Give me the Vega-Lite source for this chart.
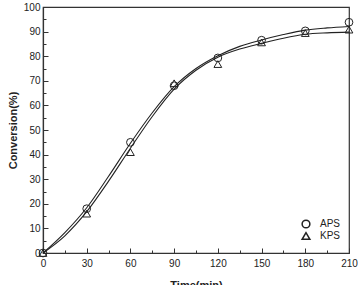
{
  "$schema": "https://vega.github.io/schema/vega-lite/v6.json",
  "autosize": {"type": "none"},
  "padding": {"left": 43, "top": 7, "right": 9, "bottom": 32},
  "width": 306,
  "height": 246,
  "background": "white",
  "config": {
    "font": "Liberation Sans",
    "view": {"stroke": "#333", "strokeWidth": 1.2},
    "axis": {"grid": false, "domainColor": "#333", "domainWidth": 1.2, "tickColor": "#333", "labelColor": "#222", "labelFontSize": 10, "labelOverlap": false, "titleFontSize": 11, "titleFontWeight": "bold", "titleColor": "#222"}
  },
  "datasets": {
    "pts": [
      {"time": 0, "conv": 0, "series": "APS"},
      {"time": 30, "conv": 18, "series": "APS"},
      {"time": 60, "conv": 45, "series": "APS"},
      {"time": 90, "conv": 68, "series": "APS"},
      {"time": 120, "conv": 79.3, "series": "APS"},
      {"time": 150, "conv": 86.5, "series": "APS"},
      {"time": 180, "conv": 90.3, "series": "APS"},
      {"time": 210, "conv": 93.8, "series": "APS"},
      {"time": 0, "conv": 0, "series": "KPS"},
      {"time": 30, "conv": 16, "series": "KPS"},
      {"time": 60, "conv": 41, "series": "KPS"},
      {"time": 90, "conv": 69, "series": "KPS"},
      {"time": 120, "conv": 76.8, "series": "KPS"},
      {"time": 150, "conv": 85.6, "series": "KPS"},
      {"time": 180, "conv": 89.4, "series": "KPS"},
      {"time": 210, "conv": 90.8, "series": "KPS"}
    ],
    "fit": [
      {"time": 0, "conv": 0, "series": "APS"},
      {"time": 15, "conv": 8.3, "series": "APS"},
      {"time": 30, "conv": 18.4, "series": "APS"},
      {"time": 45, "conv": 31.2, "series": "APS"},
      {"time": 60, "conv": 44.6, "series": "APS"},
      {"time": 75, "conv": 57, "series": "APS"},
      {"time": 90, "conv": 67.6, "series": "APS"},
      {"time": 105, "conv": 75, "series": "APS"},
      {"time": 120, "conv": 80.2, "series": "APS"},
      {"time": 135, "conv": 84, "series": "APS"},
      {"time": 150, "conv": 86.6, "series": "APS"},
      {"time": 165, "conv": 88.8, "series": "APS"},
      {"time": 180, "conv": 90.6, "series": "APS"},
      {"time": 195, "conv": 91.5, "series": "APS"},
      {"time": 210, "conv": 92.1, "series": "APS"},
      {"time": 0, "conv": 0, "series": "KPS"},
      {"time": 15, "conv": 7, "series": "KPS"},
      {"time": 30, "conv": 16.8, "series": "KPS"},
      {"time": 45, "conv": 29.2, "series": "KPS"},
      {"time": 60, "conv": 42.6, "series": "KPS"},
      {"time": 75, "conv": 55.5, "series": "KPS"},
      {"time": 90, "conv": 66.6, "series": "KPS"},
      {"time": 105, "conv": 74.3, "series": "KPS"},
      {"time": 120, "conv": 79.6, "series": "KPS"},
      {"time": 135, "conv": 82.9, "series": "KPS"},
      {"time": 150, "conv": 85.2, "series": "KPS"},
      {"time": 165, "conv": 87.3, "series": "KPS"},
      {"time": 180, "conv": 88.9, "series": "KPS"},
      {"time": 195, "conv": 89.5, "series": "KPS"},
      {"time": 210, "conv": 89.8, "series": "KPS"}
    ]
  },
  "encoding": {
    "x": {"field": "time", "type": "quantitative", "scale": {"domain": [0, 210], "nice": false},
      "axis": {"title": "Time(min)", "values": [0,15,30,45,60,75,90,105,120,135,150,165,180,195,210], "labelOverlap": false,
        "labelExpr": "datum.value % 30 == 0 ? datum.label : ''", "tickSize": {"expr": "datum.value % 30 == 0 ? -5 : -3"}, "labelPadding": 10, "titlePadding": 9, "labelFlush": false}},
    "y": {"field": "conv", "type": "quantitative", "scale": {"domain": [0, 100], "nice": false},
      "axis": {"title": "Conversion(%)", "values": [0,5,10,15,20,25,30,35,40,45,50,55,60,65,70,75,80,85,90,95,100], "labelOverlap": false, "labelFlush": false,
        "labelExpr": "datum.value % 10 == 0 ? datum.label : ''", "tickSize": {"expr": "datum.value % 10 == 0 ? -5 : -3"}, "labelPadding": 8, "titlePadding": 5}}
  },
  "layer": [
    {
      "data": {"name": "fit"},
      "mark": {"type": "line", "interpolate": "monotone", "color": "#222", "strokeWidth": 1.1},
      "encoding": {
        "detail": {"field": "series"}
      }
    },
    {
      "data": {"name": "pts"},
      "mark": {"type": "point", "filled": false, "color": "#222", "strokeWidth": 1, "size": 60, "opacity": 1},
      "encoding": {
        "shape": {"field": "series", "type": "nominal", "scale": {"domain": ["APS", "KPS"], "range": ["circle", "triangle-up"]},
          "legend": {"title": null, "orient": "none", "legendX": 258, "legendY": 212, "labelFontSize": 10, "labelColor": "#222", "symbolStrokeColor": "#222", "symbolFillColor": "transparent", "symbolSize": 60, "rowPadding": -2, "labelOffset": 9}}
      }
    }
  ]
}
